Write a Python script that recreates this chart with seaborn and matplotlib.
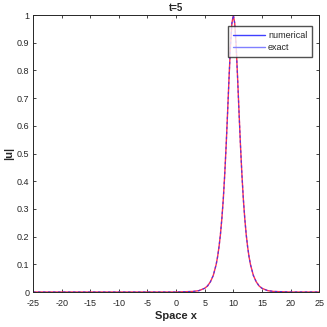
import numpy as np
import pandas as pd
import matplotlib
matplotlib.use("Agg")
import matplotlib.pyplot as plt
import seaborn as sns
from matplotlib.lines import Line2D

# values (peak at x=10, symmetric)
x_vals = [-25, -15, -5, 0, 3, 4, 5, 5.5, 6, 6.5, 7, 7.25, 7.5, 7.75, 8, 8.25, 8.5,
          8.75, 9, 9.25, 9.5, 9.75, 10, 10.25, 10.5, 10.75, 11, 11.25, 11.5, 11.75,
          12, 12.25, 12.5, 12.75, 13, 13.5, 14, 14.5, 15, 16, 17, 20, 25]
u_numerical = [0.0, 0.0, 0.0, 0.0, 0.002, 0.005, 0.0135, 0.022, 0.037, 0.060, 0.099,
               0.127, 0.163, 0.208, 0.266, 0.336, 0.425, 0.530, 0.648, 0.772, 0.887,
               0.970, 1.0, 0.970, 0.887, 0.772, 0.648, 0.530, 0.425, 0.336, 0.266,
               0.208, 0.163, 0.127, 0.099, 0.060, 0.037, 0.022, 0.0135, 0.005, 0.002,
               0.0, 0.0]
u_exact = list(u_numerical)
x_ticks = [-25, -20, -15, -10, -5, 0, 5, 10, 15, 20, 25]
y_ticks = [0, 0.1, 0.2, 0.3, 0.4, 0.5, 0.6, 0.7, 0.8, 0.9, 1]

df = pd.DataFrame({"x": x_vals, "numerical": u_numerical, "exact": u_exact})

sns.set_style("ticks")
plt.rcParams["font.family"] = ["Liberation Sans", "DejaVu Sans"]

fig = plt.figure(figsize=(3.27, 3.27), dpi=100)
ax = fig.add_axes([0.101, 0.107, 0.875, 0.847])

sns.lineplot(data=df, x="x", y="exact", ax=ax, color="#ff3050", lw=1.0)
sns.lineplot(data=df, x="x", y="numerical", ax=ax, color="#3030ff", lw=0.9,
             linestyle=(0, (2, 2)), alpha=0.8)

ax.set_xlim(-25, 25)
ax.set_ylim(0, 1)
ax.set_xticks(x_ticks)
ax.set_yticks(y_ticks)
ax.set_xticklabels([str(t) for t in x_ticks])
ax.set_yticklabels(["0", "0.1", "0.2", "0.3", "0.4", "0.5", "0.6", "0.7", "0.8", "0.9", "1"])
ax.tick_params(direction="in", length=2.5, width=0.6, labelsize=6.5, colors="#262626",
               top=True, right=True, pad=2.5)
ax.tick_params(axis="x", pad=5)
for s in ax.spines.values():
    s.set_linewidth(0.7)
    s.set_color("#262626")

ax.set_title("t=5", fontsize=7, fontweight="bold", pad=3)
ax.set_xlabel("Space x", fontsize=8, fontweight="bold", labelpad=2)
ax.set_ylabel("|u|", fontsize=8, fontweight="bold", labelpad=2)

handles = [Line2D([], [], color="#4040ff", lw=1.0),
           Line2D([], [], color="#8080ff", lw=1.0)]
ax.legend(handles, ["numerical", "exact"], loc="upper right",
          bbox_to_anchor=(0.99, 0.975), fontsize=6.5, frameon=True, fancybox=False,
          edgecolor="#262626", handlelength=3.6, borderpad=0.5, labelspacing=0.35,
          handletextpad=0.3)

fig.savefig("out.png", dpi=100)
